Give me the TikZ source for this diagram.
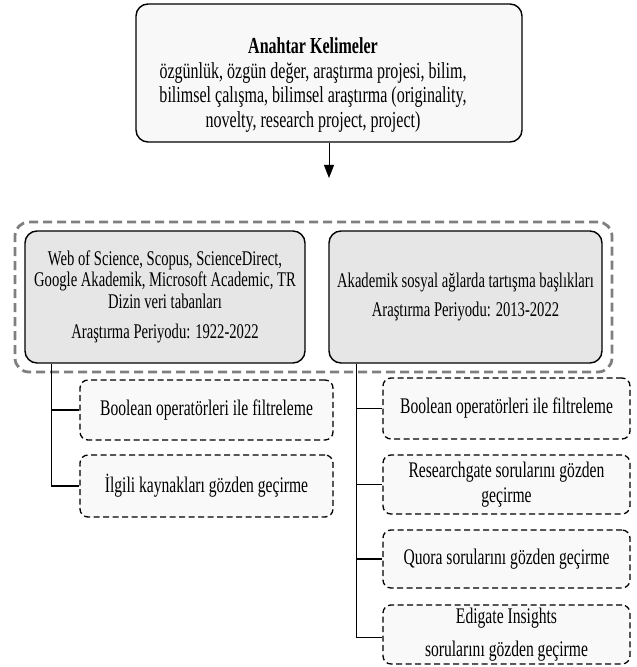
\documentclass[tikz,border=0pt]{standalone}
\usepackage{fontspec}
\setmainfont{Liberation Serif}[FakeStretch=0.7]
\usetikzlibrary{arrows.meta}
\definecolor{topfill}{HTML}{F8F8F8}
\definecolor{grayfill}{HTML}{E6E6E6}
\definecolor{dfill}{HTML}{F9F9F9}
\definecolor{outergray}{HTML}{7F7F7F}
\begin{document}
\begin{tikzpicture}[x=1pt,y=1pt,
  box/.style={draw, line width=1.4pt, rounded corners=12pt, inner sep=0pt, align=center},
  topbox/.style={box, fill=topfill, minimum width=386pt, minimum height=138pt},
  graybox/.style={box, fill=grayfill, minimum height=132pt, font=\fontsize{20.9}{21.5}\selectfont},
  dbox/.style={draw, line width=1.3pt, dash pattern=on 6pt off 3.5pt, rounded corners=8pt, fill=dfill, inner sep=0pt, align=center, font=\fontsize{22.3}{25.5}\selectfont},
  grpbox/.style={draw=outergray, line width=2.8pt, dash pattern=on 9pt off 5pt, rounded corners=14pt, inner sep=0pt},
  conn/.style={draw, line width=1.2pt},
  txt/.style={align=center, inner sep=0pt}
]
\useasboundingbox (0,0) rectangle (637,667);

% top box
\node[topbox] (kw) at (329,594) {};
\node[txt, font=\fontsize{22.9}{24.7}\selectfont] (kwt) at (313,582)
  {\textbf{Anahtar Kelimeler}\\
   özgünlük, özgün değer, araştırma projesi, bilim,\\
   bilimsel çalışma, bilimsel araştırma (originality,\\
   novelty, research project, project)};
\coordinate (ah) at (329,489);
\draw[line width=1pt, -{Triangle[length=13pt,width=10pt]}] (kw.south) -- (ah);

% group
\node[grpbox, minimum width=597pt, minimum height=150pt] (grp) at (313.5,370) {};
\node[graybox, minimum width=280pt] (lg) at (165,370)
  {Web of Science, Scopus, ScienceDirect,\\
   Google Akademik, Microsoft Academic, TR\\
   Dizin veri tabanları\\[9pt]
   Araştırma Periyodu: 1922-2022};
\node[graybox, minimum width=273pt] (rg) at (465.5,370)
  {Akademik sosyal ağlarda tartışma başlıkları\\[7pt]
   Araştırma Periyodu: 2013-2022};

% left branch
\node[dbox, minimum width=253pt, minimum height=60pt] (lb1) at (206.5,257) {Boolean operatörleri ile filtreleme};
\node[dbox, minimum width=253pt, minimum height=62pt] (lb2) at (206.5,181) {İlgili kaynakları gözden geçirme};

% right branch
\node[dbox, minimum width=247pt, minimum height=61pt] (rb1) at (506.5,258.5) {Boolean operatörleri ile filtreleme};
\node[dbox, minimum width=247pt, minimum height=59pt] (rb2) at (506.5,182.5) {Researchgate sorularını gözden\\ geçirme};
\node[dbox, minimum width=247pt, minimum height=58pt] (rb3) at (506.5,108) {Quora sorularını gözden geçirme};
\node[dbox, minimum width=247pt, minimum height=59pt] (rb4) at (506.5,32.5) {Edigate Insights\\[8pt] sorularını gözden geçirme};

\draw[conn] ([xshift=27pt]lg.south west) |- (lb1.west);
\draw[conn] ([xshift=27pt]lg.south west) |- (lb2.west);
\draw[conn] ([xshift=28pt]rg.south west) |- (rb1.west);
\draw[conn] ([xshift=28pt]rg.south west) |- (rb2.west);
\draw[conn] ([xshift=28pt]rg.south west) |- (rb3.west);
\draw[conn] ([xshift=28pt]rg.south west) |- ([yshift=-3pt]rb4.west);
\end{tikzpicture}
\end{document}
